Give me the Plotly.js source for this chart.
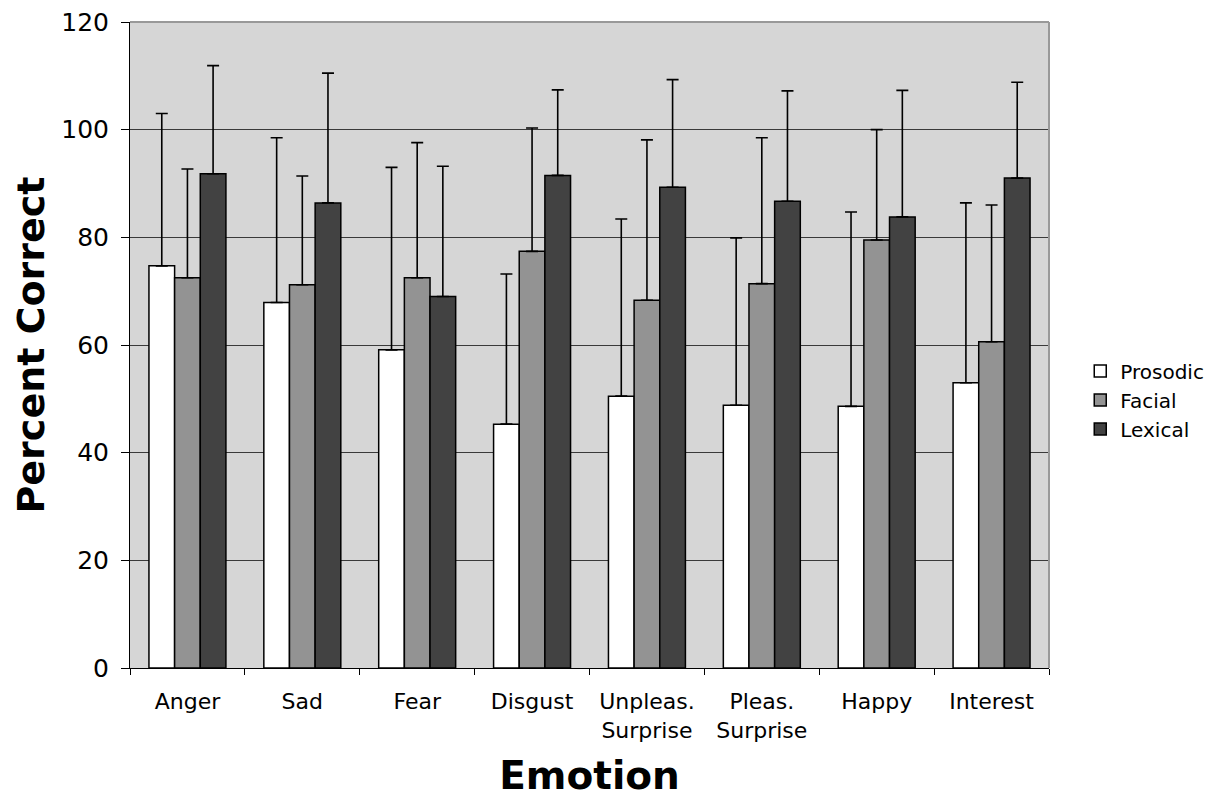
<!DOCTYPE html>
<html>
<head>
<meta charset="utf-8">
<script src="https://cdn.plot.ly/plotly-3.0.1.min.js"></script>
<style>html,body{margin:0;padding:0;background:#fff;}#chart{width:1211px;height:798px;}</style>
</head>
<body>
<div id="chart"></div>
<script>
const categories = ["Anger", "Sad", "Fear", "Disgust", "Unpleas.<br>Surprise", "Pleas.<br>Surprise", "Happy", "Interest"];
const yTickValues = [0, 20, 40, 60, 80, 100, 120];
const prosodic    = [74.7, 67.9, 59.1, 45.3, 50.5, 48.8, 48.6, 53.0];
const prosodicErr = [28.3, 30.6, 33.9, 27.9, 32.9, 31.1, 36.1, 33.4];
const facial      = [72.5, 71.2, 72.5, 77.4, 68.3, 71.4, 79.5, 60.6];
const facialErr   = [20.2, 20.2, 25.1, 22.9, 29.8, 27.1, 20.5, 25.4];
const lexical     = [91.8, 86.4, 69.0, 91.5, 89.3, 86.7, 83.8, 91.0];
const lexicalErr  = [20.1, 24.1, 24.2, 15.9, 20.0, 20.5, 23.5, 17.8];

const FONT = "DejaVu Sans, Verdana, sans-serif";
function zeros(n){ return new Array(n).fill(0); }
function barTrace(name, y, err, color){
  return {
    type: "bar", name: name, x: categories, y: y,
    marker: {color: color, line: {color: "#000", width: 1.5}},
    error_y: {type: "data", symmetric: false, array: err, arrayminus: zeros(err.length),
              color: "#000", thickness: 1.6, width: 6},
    hoverinfo: "skip"
  };
}
const data = [
  barTrace("Prosodic", prosodic, prosodicErr, "#ffffff"),
  barTrace("Facial", facial, facialErr, "#939393"),
  barTrace("Lexical", lexical, lexicalErr, "#424242")
];
const layout = {
  width: 1211, height: 798,
  margin: {l: 130, r: 162, t: 22, b: 130, pad: 0, autoexpand: false},
  paper_bgcolor: "#fff", plot_bgcolor: "#d6d6d6",
  barmode: "group", bargap: 0.33, bargroupgap: 0,
  font: {family: FONT, color: "#000"},
  showlegend: true,
  legend: {x: 1.034, xanchor: "left", y: 0.415, yanchor: "middle",
           font: {family: FONT, size: 20, color: "#000"}, bgcolor: "rgba(0,0,0,0)",
           tracegroupgap: 0, itemwidth: 30},
  xaxis: {
    type: "category", tickson: "boundaries", ticks: "outside", ticklen: 6, tickcolor: "#000",
    showline: true, linecolor: "#000", linewidth: 1, showgrid: false, zeroline: false,
    ticklabelstandoff: 14,
    tickfont: {family: FONT, size: 22, color: "#000"},
    title: {text: "<b>Emotion</b>", font: {family: FONT, size: 39, color: "#000"}, standoff: 27}
  },
  yaxis: {
    range: [0, 120], tickvals: yTickValues, ticks: "outside", ticklen: 8, tickcolor: "#000",
    showline: true, linecolor: "#000", linewidth: 1,
    showgrid: true, gridcolor: "#3a3a3a", gridwidth: 1, zeroline: false,
    ticklabelstandoff: 7,
    tickfont: {family: FONT, size: 25, color: "#000"},
    title: {text: "<b>Percent Correct</b>", font: {family: FONT, size: 38, color: "#000"}, standoff: 4}
  },
  shapes: [
    {type: "line", xref: "paper", yref: "paper", x0: 0, x1: 1, y0: 1, y1: 1, line: {color: "#999", width: 2}},
    {type: "line", xref: "paper", yref: "paper", x0: 1, x1: 1, y0: 0, y1: 1, line: {color: "#999", width: 2}}
  ]
};
Plotly.newPlot("chart", data, layout, {staticPlot: true, displayModeBar: false});
</script>
</body>
</html>
